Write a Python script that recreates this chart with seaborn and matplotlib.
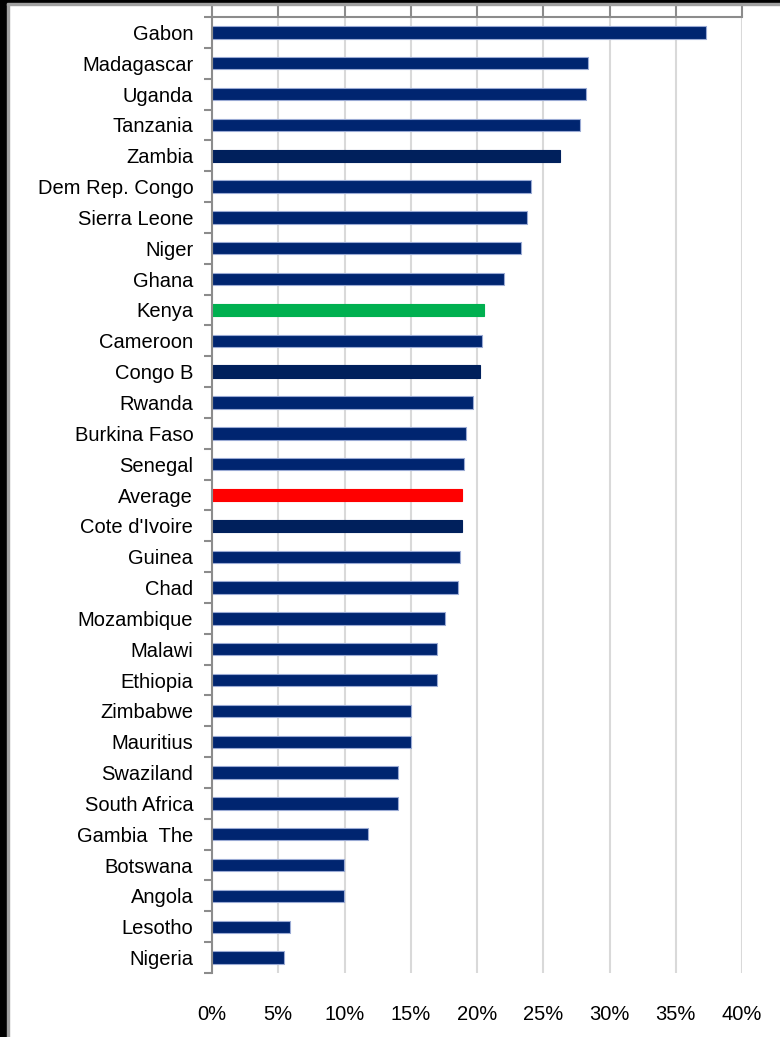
import matplotlib.pyplot as plt
import matplotlib.patches as mpatches
import numpy as np
import pandas as pd
import seaborn as sns
from matplotlib.ticker import PercentFormatter

countries = ["Gabon", "Madagascar", "Uganda", "Tanzania", "Zambia", "Dem Rep. Congo",
             "Sierra Leone", "Niger", "Ghana", "Kenya", "Cameroon", "Congo B", "Rwanda",
             "Burkina Faso", "Senegal", "Average", "Cote d'Ivoire", "Guinea", "Chad",
             "Mozambique", "Malawi", "Ethiopia", "Zimbabwe", "Mauritius", "Swaziland",
             "South Africa", "Gambia  The", "Botswana", "Angola", "Lesotho", "Nigeria"]
values = [37.3, 28.4, 28.2, 27.8, 26.3, 24.1,
          23.8, 23.3, 22.0, 20.5, 20.4, 20.2, 19.7,
          19.2, 19.0, 18.9, 18.9, 18.7, 18.55,
          17.6, 16.95, 16.95, 15.0, 15.0, 14.0,
          14.0, 11.8, 9.95, 9.95, 5.9, 5.4]

navy = "#002570"
dark = "#00205C"
highlight = {"Kenya": "#00B050", "Average": "#FF0000",
             "Zambia": dark, "Congo B": dark, "Cote d'Ivoire": dark}
colors = [highlight.get(c, navy) for c in countries]

df = pd.DataFrame({"country": countries, "value": values})

sns.set_style("white")
plt.rcParams["font.family"] = ["Liberation Sans", "DejaVu Sans"]

fig = plt.figure(figsize=(7.8, 10.37), dpi=100)
ax = fig.add_axes([0.2718, 0.0617, 0.9513 - 0.2718, 0.9836 - 0.0617])

sns.barplot(data=df, x="value", y="country", hue="country", palette=colors,
            legend=False, width=0.4, orient="h", ax=ax, saturation=1)

for bar, c in zip(ax.patches, countries):
    if c in highlight:
        bar.set_edgecolor(bar.get_facecolor())
    else:
        bar.set_edgecolor("#9AAAD4")
    bar.set_linewidth(0.8)

ax.set_xlim(0, 40)
ax.set_ylim(len(countries) - 0.5, -0.5)
ax.set_xticks(np.arange(0, 41, 5))
ax.xaxis.set_major_formatter(PercentFormatter(decimals=0))
ax.grid(axis="x", color="#D9D9D9", linewidth=1.5)
ax.set_axisbelow(True)

ax.set_xlabel("")
ax.set_ylabel("")

for side in ["right", "bottom"]:
    ax.spines[side].set_visible(False)
for side in ["top", "left"]:
    ax.spines[side].set_color("#8C8C8C")
    ax.spines[side].set_linewidth(1.5)

ax.tick_params(axis="x", which="major", top=True, bottom=False, labeltop=False,
               labelbottom=True, direction="out", length=8, width=1.5,
               color="#8C8C8C", pad=15, labelsize=14.5, labelcolor="black")
ax.set_yticks(np.arange(-0.5, len(countries), 1), minor=True)
ax.tick_params(axis="y", which="major", left=False, labelsize=14.5, pad=10,
               labelcolor="black")
ax.tick_params(axis="y", which="minor", left=True, direction="out", length=6,
               width=1.5, color="#8C8C8C")

# frame fragments of the original screenshot
fig.add_artist(mpatches.Rectangle((0, 0), 7 / 780, 1, transform=fig.transFigure,
                                  color="black", zorder=10))
fig.add_artist(mpatches.Rectangle((7 / 780, 0), 2 / 780, 1, transform=fig.transFigure,
                                  color="#A0A0A0", zorder=10))
fig.add_artist(mpatches.Rectangle((0, 1 - 3 / 1037), 1, 3 / 1037, transform=fig.transFigure,
                                  color="black", zorder=10))
fig.add_artist(mpatches.Rectangle((7 / 780, 1 - 5 / 1037), 1, 2 / 1037,
                                  transform=fig.transFigure, color="#A0A0A0", zorder=10))

fig.savefig("out.png", dpi=100)
